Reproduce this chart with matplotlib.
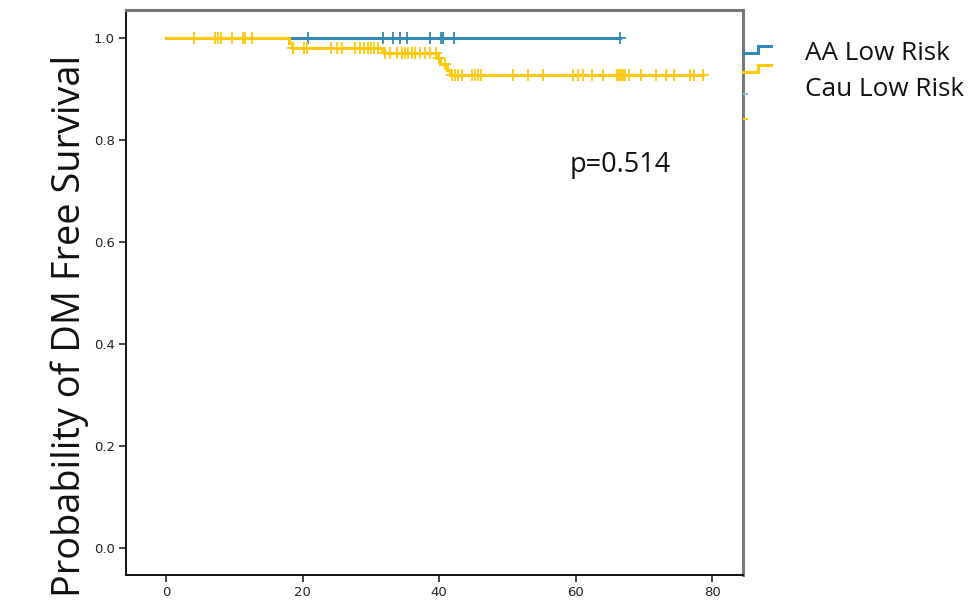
import numpy as np
import matplotlib
matplotlib.use("Agg")
import matplotlib.pyplot as plt
from matplotlib.lines import Line2D

# ---- data ----
series_names = ["AA Low Risk", "Cau Low Risk"]

aa_event_times = [0.0]
aa_survival = [1.0]
aa_end_time = 66.5
aa_censor_times = [20.8, 31.8, 33.3, 34.3, 35.3, 38.7, 40.3, 40.6, 42.2, 66.5]

cau_event_times = [0.0, 18.0, 18.5, 31.6, 32.0, 39.7, 40.2, 41.2, 41.6]
cau_survival = [1.0, 0.990, 0.980, 0.975, 0.971, 0.960, 0.950, 0.937, 0.927]
cau_end_time = 78.7
cau_censor_times = [4.1, 7.2, 7.6, 8.1, 9.7, 11.3, 11.6, 12.6,
                    18.6, 20.2, 20.7, 24.2, 25.1, 25.8, 27.7, 28.4, 29.0, 29.6, 30.0, 30.5, 31.1,
                    32.1, 32.8, 33.8, 34.6, 35.0, 35.5, 36.0, 36.5, 37.2, 37.9, 38.7, 39.5,
                    40.0, 40.9,
                    41.9, 42.3, 42.8, 43.4, 44.8, 45.3, 45.7, 46.2, 50.8, 53.0, 55.2, 59.6, 60.4,
                    61.1, 62.4, 64.0, 66.1, 66.4, 66.7, 67.0, 67.3, 67.8, 69.6, 71.8, 73.3, 74.4,
                    76.8, 77.4, 78.7]

p_text = "p=0.514"
y_label = "Probability of DM Free Survival"
x_ticks = [0, 20, 40, 60, 80]
y_ticks = [0.0, 0.2, 0.4, 0.6, 0.8, 1.0]

blue = "#3189B3"
gold = "#FFC80A"

W, H = 977, 608
fig = plt.figure(figsize=(W / 100, H / 100), dpi=100)
L, R, T, B = 126, 743, 10, 575
ax = fig.add_axes([L / W, 1 - B / H, (R - L) / W, (B - T) / H])


def step_surv(times, surv, t):
    idx = np.searchsorted(np.asarray(times), np.asarray(t), side="right") - 1
    return np.asarray(surv)[idx]


def draw_curve(times, surv, end, censors, color, z):
    xs = list(times) + [end]
    ys = list(surv) + [surv[-1]]
    ax.step(xs, ys, where="post", color=color, lw=2.2, zorder=z, solid_joinstyle="miter")
    cy = step_surv(times, surv, censors)
    ax.plot(censors, cy, ls="none", marker="+", ms=8, mew=1.3, color=color, zorder=z)


draw_curve(aa_event_times, aa_survival, aa_end_time, aa_censor_times, blue, 2)
draw_curve(cau_event_times, cau_survival, cau_end_time, cau_censor_times, gold, 3)

ax.set_xlim(-5.86, 84.54)
ax.set_ylim(-0.053, 1.055)
ax.set_xticks(x_ticks)
ax.set_yticks(y_ticks)
ax.set_xticklabels([str(v) for v in x_ticks])
ax.set_yticklabels(["%.1f" % v for v in y_ticks])
ax.tick_params(axis="both", direction="out", length=5, width=1.2, labelsize=9.5,
               colors="#222222", pad=3)

for s in ["left", "bottom"]:
    ax.spines[s].set_color("#111111")
    ax.spines[s].set_linewidth(1.4)
for s in ["top", "right"]:
    ax.spines[s].set_color("#777777")
    ax.spines[s].set_linewidth(2.2)

fig.text(620 / W, 1 - 165 / H, p_text, ha="center", va="center",
         fontsize=19.5, family="Open Sans", color="#111111")

fig.text(70 / W, 1 - 326 / H, y_label, rotation=90, ha="center", va="center",
         fontsize=27.3, family="Open Sans", color="#111111")

# outside legend fragment
def fx(px):
    return px / W


def fy(py):
    return 1 - py / H


for col, y0, y1 in [(blue, 53, 46), (gold, 72, 65)]:
    fig.add_artist(Line2D([fx(743), fx(758), fx(758), fx(771)],
                          [fy(y0), fy(y0), fy(y1), fy(y1)],
                          color=col, lw=2.2, solid_joinstyle="miter"))
fig.add_artist(Line2D([fx(744), fx(747)], [fy(94), fy(94)], color="#8DC0DA", lw=1.5))
fig.add_artist(Line2D([fx(744), fx(747)], [fy(119), fy(119)], color=gold, lw=1.5))

fig.text(805 / W, 1 - 53 / H, series_names[0], ha="left", va="center",
         fontsize=18.8, family="Open Sans", color="#111111")
fig.text(805 / W, 1 - 90 / H, series_names[1], ha="left", va="center",
         fontsize=18.8, family="Open Sans", color="#111111")

fig.savefig("out.png", dpi=100, facecolor="white")
